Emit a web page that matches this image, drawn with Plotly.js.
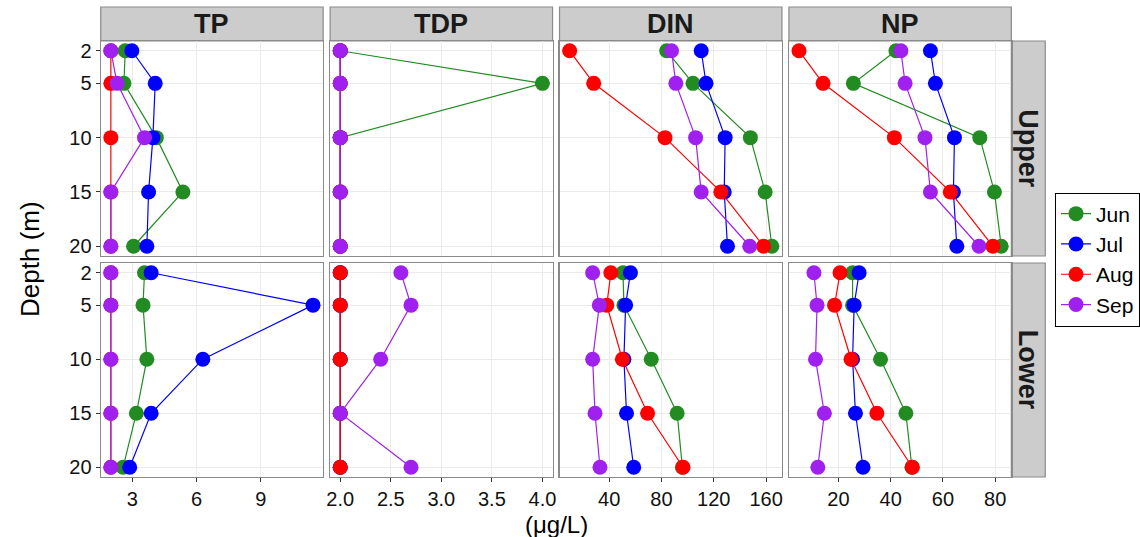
<!DOCTYPE html>
<html><head><meta charset="utf-8">
<script src="https://cdn.plot.ly/plotly-3.0.1.min.js"></script>
<style>html,body{margin:0;padding:0;background:#fff;} #chart{width:1140px;height:537px;}</style>
</head><body><div id="chart"></div>
<script>
// ---------- data ----------
const depths = [2, 5, 10, 15, 20];
const months = ['Jun', 'Jul', 'Aug', 'Sep'];
const variables = ['TP', 'TDP', 'DIN', 'NP'];
const layers = ['Upper', 'Lower'];

const TP_Upper_Jun = [2.67, 2.61, 4.12, 5.36, 3.06];
const TP_Upper_Jul = [2.98, 4.07, 3.96, 3.76, 3.68];
const TP_Upper_Aug = [2.0, 2.0, 2.0, 2.0, 2.0];
const TP_Upper_Sep = [2.0, 2.29, 3.57, 2.0, 2.0];
const TP_Lower_Jun = [3.57, 3.50, 3.68, 3.19, 2.57];
const TP_Lower_Jul = [3.88, 11.43, 6.29, 3.88, 2.88];
const TP_Lower_Aug = [2.0, 2.0, 2.0, 2.0, 2.0];
const TP_Lower_Sep = [2.0, 2.0, 2.0, 2.0, 2.0];

const TDP_Upper_Jun = [2.0, 4.0, 2.0, 2.0, 2.0];
const TDP_Upper_Jul = [2.0, 2.0, 2.0, 2.0, 2.0];
const TDP_Upper_Aug = [2.0, 2.0, 2.0, 2.0, 2.0];
const TDP_Upper_Sep = [2.0, 2.0, 2.0, 2.0, 2.0];
const TDP_Lower_Jun = [2.0, 2.0, 2.0, 2.0, 2.0];
const TDP_Lower_Jul = [2.0, 2.0, 2.0, 2.0, 2.0];
const TDP_Lower_Aug = [2.0, 2.0, 2.0, 2.0, 2.0];
const TDP_Lower_Sep = [2.60, 2.70, 2.40, 2.0, 2.70];

const DIN_Upper_Jun = [84.0, 104.1, 148.0, 159.3, 164.4];
const DIN_Upper_Jul = [110.4, 114.1, 128.7, 128.0, 130.5];
const DIN_Upper_Aug = [9.8, 28.2, 82.7, 125.4, 158.1];
const DIN_Upper_Sep = [87.7, 91.0, 106.1, 110.4, 147.5];
const DIN_Lower_Jun = [50.6, 51.3, 72.2, 92.0, 96.0];
const DIN_Lower_Jul = [56.3, 52.6, 51.3, 53.3, 58.8];
const DIN_Lower_Aug = [41.3, 38.2, 50.1, 69.4, 96.5];
const DIN_Lower_Sep = [27.4, 32.5, 27.4, 29.2, 33.0];

const NP_Upper_Jun = [42.0, 25.7, 74.1, 79.7, 82.3];
const NP_Upper_Jul = [55.2, 57.1, 64.4, 64.0, 65.3];
const NP_Upper_Aug = [4.9, 14.1, 41.4, 62.8, 79.1];
const NP_Upper_Sep = [43.9, 45.5, 53.1, 55.2, 73.8];
const NP_Lower_Jun = [25.4, 25.4, 36.1, 45.8, 48.1];
const NP_Lower_Jul = [27.9, 26.0, 25.4, 26.5, 29.4];
const NP_Lower_Aug = [20.6, 18.5, 24.8, 34.7, 48.3];
const NP_Lower_Sep = [10.6, 11.8, 11.2, 14.6, 12.1];

const TP_ticks = [3, 6, 9];
const TDP_ticks = [2.0, 2.5, 3.0, 3.5, 4.0];
const TDP_tickLabels = ['2.0', '2.5', '3.0', '3.5', '4.0'];
const DIN_ticks = [40, 80, 120, 160];
const NP_ticks = [20, 40, 60, 80];
const depthTicks = [2, 5, 10, 15, 20];

// ---------- lookup ----------
const series = {
  TP: {Upper: [TP_Upper_Jun, TP_Upper_Jul, TP_Upper_Aug, TP_Upper_Sep],
       Lower: [TP_Lower_Jun, TP_Lower_Jul, TP_Lower_Aug, TP_Lower_Sep]},
  TDP: {Upper: [TDP_Upper_Jun, TDP_Upper_Jul, TDP_Upper_Aug, TDP_Upper_Sep],
        Lower: [TDP_Lower_Jun, TDP_Lower_Jul, TDP_Lower_Aug, TDP_Lower_Sep]},
  DIN: {Upper: [DIN_Upper_Jun, DIN_Upper_Jul, DIN_Upper_Aug, DIN_Upper_Sep],
        Lower: [DIN_Lower_Jun, DIN_Lower_Jul, DIN_Lower_Aug, DIN_Lower_Sep]},
  NP: {Upper: [NP_Upper_Jun, NP_Upper_Jul, NP_Upper_Aug, NP_Upper_Sep],
       Lower: [NP_Lower_Jun, NP_Lower_Jul, NP_Lower_Aug, NP_Lower_Sep]}
};
const xTicks = {TP: [TP_ticks, TP_ticks.map(String)], TDP: [TDP_ticks, TDP_tickLabels],
                DIN: [DIN_ticks, DIN_ticks.map(String)], NP: [NP_ticks, NP_ticks.map(String)]};

// ---------- styling ----------
const colors = ['#228B22', '#0000FF', '#FF0000', '#A020F0'];
const FONT = 'Liberation Sans, Arial, sans-serif';
const W = 1140, H = 537;
const colX = [[101, 324], [331, 554], [561, 784], [791, 1014]];
const rowY = [[41, 256], [263, 477]];
const stripTop = 7, stripRight = [1014, 1048];
const borderColor = '#8a8a8a';

function expand(vals) {
  const mn = Math.min(...vals), mx = Math.max(...vals);
  const p = (mx - mn) * 0.05;
  return [mn - p, mx + p];
}

const traces = [];
const layout = {
  width: W, height: H, margin: {l: 0, r: 0, t: 0, b: 0},
  paper_bgcolor: '#fff', plot_bgcolor: '#fff',
  font: {family: FONT, color: '#000'},
  showlegend: true,
  legend: {x: 1058 / W, y: 1 - 259.5 / H, xanchor: 'left', yanchor: 'middle',
           bordercolor: '#000', borderwidth: 1, bgcolor: '#fff',
           font: {size: 21, family: FONT, color: '#000'}, tracegroupgap: 0, itemwidth: 30},
  shapes: [], annotations: []
};

const yRange = expand(depths);

layers.forEach((layer, r) => {
  variables.forEach((v, c) => {
    const idx = r * 4 + c + 1;
    const xa = 'xaxis' + (idx === 1 ? '' : idx), ya = 'yaxis' + (idx === 1 ? '' : idx);
    const allVals = [].concat(...series[v].Upper, ...series[v].Lower);
    layout[xa] = {
      domain: [colX[c][0] / W, colX[c][1] / W], anchor: 'y' + (idx === 1 ? '' : idx),
      range: expand(allVals), tickvals: xTicks[v][0], ticktext: xTicks[v][1],
      showgrid: true, gridcolor: '#EBEBEB', gridwidth: 1, zeroline: false,
      showline: true, mirror: true, linecolor: borderColor, linewidth: 1.2,
      ticks: r === 1 ? 'outside' : '', ticklen: 4, tickcolor: '#333', tickwidth: 1,
      showticklabels: r === 1, tickfont: {size: 20, family: FONT, color: '#111'}, fixedrange: true
    };
    layout[ya] = {
      domain: [1 - rowY[r][1] / H, 1 - rowY[r][0] / H], anchor: 'x' + (idx === 1 ? '' : idx),
      range: [yRange[1], yRange[0]], tickvals: depthTicks, ticktext: depthTicks.map(String),
      showgrid: true, gridcolor: '#EBEBEB', gridwidth: 1, zeroline: false,
      showline: true, mirror: true, linecolor: borderColor, linewidth: 1.2,
      ticks: c === 0 ? 'outside' : '', ticklen: 4, tickcolor: '#333', tickwidth: 1,
      showticklabels: c === 0, tickfont: {size: 20, family: FONT, color: '#111'}, fixedrange: true
    };
    months.forEach((m, k) => {
      traces.push({
        type: 'scatter', mode: 'lines+markers', name: m, legendgroup: m,
        showlegend: idx === 1,
        x: series[v][layer][k], y: depths,
        xaxis: 'x' + (idx === 1 ? '' : idx), yaxis: 'y' + (idx === 1 ? '' : idx),
        line: {color: colors[k], width: 1.2},
        marker: {color: colors[k], size: 15, line: {width: 0}},
        hoverinfo: 'skip'
      });
    });
    // top strips
    if (r === 0) {
      layout.shapes.push({type: 'rect', xref: 'paper', yref: 'paper',
        x0: colX[c][0] / W, x1: colX[c][1] / W, y0: 1 - rowY[0][0] / H, y1: 1 - stripTop / H,
        fillcolor: '#CCCCCC', line: {color: borderColor, width: 1.2}, layer: 'below'});
      layout.annotations.push({xref: 'paper', yref: 'paper',
        x: (colX[c][0] + colX[c][1]) / 2 / W, y: 1 - (stripTop + rowY[0][0]) / 2 / H,
        text: '<b>' + v + '</b>', showarrow: false, xanchor: 'center', yanchor: 'middle',
        font: {size: 27, family: FONT, color: '#1a1a1a'}});
    }
  });
  // right strips
  layout.shapes.push({type: 'rect', xref: 'paper', yref: 'paper',
    x0: stripRight[0] / W, x1: stripRight[1] / W, y0: 1 - rowY[r][1] / H, y1: 1 - rowY[r][0] / H,
    fillcolor: '#CCCCCC', line: {color: borderColor, width: 1.2}, layer: 'below'});
  layout.annotations.push({xref: 'paper', yref: 'paper',
    x: (stripRight[0] + stripRight[1]) / 2 / W, y: 1 - (rowY[r][0] + rowY[r][1]) / 2 / H,
    text: '<b>' + layer + '</b>', showarrow: false, textangle: 90, xanchor: 'center', yanchor: 'middle',
    font: {size: 27, family: FONT, color: '#1a1a1a'}});
});

// axis titles
layout.annotations.push({xref: 'paper', yref: 'paper', x: 557.5 / W, y: 1 - 537 / H,
  text: '(μg/L)', showarrow: false, xanchor: 'center', yanchor: 'bottom', yshift: -2, borderpad: 0,
  font: {size: 24, family: FONT, color: '#000'}});
layout.annotations.push({xref: 'paper', yref: 'paper', x: 30 / W, y: 1 - 259 / H,
  text: 'Depth (m)', showarrow: false, textangle: -90, xanchor: 'center', yanchor: 'middle',
  font: {size: 26, family: FONT, color: '#000'}});

Plotly.newPlot('chart', traces, layout, {displayModeBar: false, staticPlot: true});
</script></body></html>
